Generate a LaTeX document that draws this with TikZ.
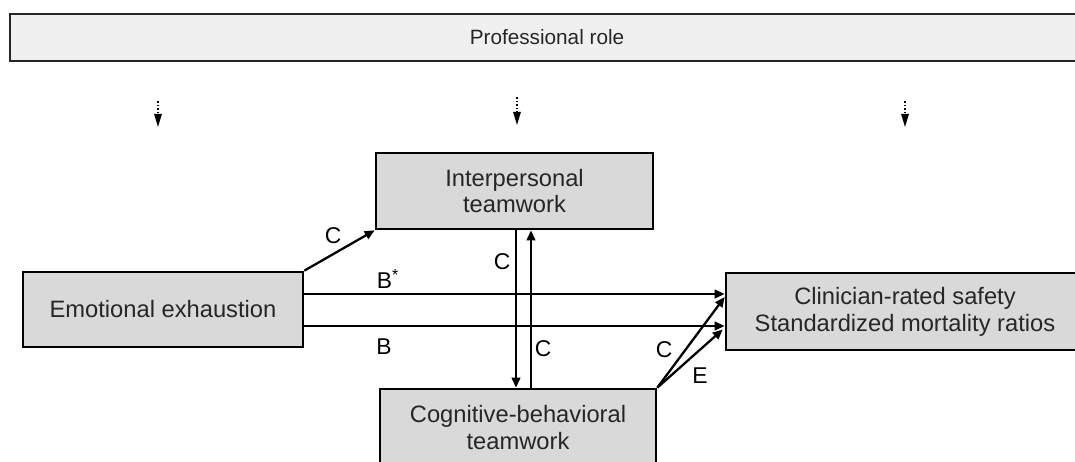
\documentclass[tikz,border=0pt]{standalone}
\usepackage{fontspec}
\setmainfont{Liberation Sans}
\usetikzlibrary{arrows.meta}
\definecolor{boxgray}{HTML}{D9D9D9}
\definecolor{bargray}{HTML}{F0F0F0}
\definecolor{txtgray}{HTML}{262626}
\begin{document}
\begin{tikzpicture}[x=0.02cm,y=-0.02cm,
		varbox/.style={draw=black, line width=1.5pt, fill=boxgray, text=txtgray, align=center, inner sep=0pt, font=\fontsize{13.5}{15.3}\selectfont},
		rolebar/.style={draw=black!85, line width=1.2pt, fill=bargray, text=txtgray, inner sep=0pt, minimum width=21.5cm, minimum height=0.94cm, font=\fontsize{11.8}{14}\selectfont},
		link/.style={-{Triangle[length=0.2cm,width=0.17cm]}, line width=1.3pt},
		modlink/.style={-{Triangle[length=0.26cm,width=0.15cm]}, line width=0.8pt, dash pattern=on 1pt off 1pt},
		lbl/.style={inner sep=0pt, font=\fontsize{13}{15}\selectfont}]
		\useasboundingbox (0,0) rectangle (1075,462);
		\clip (0,0) rectangle (1075,462);
		\node[rolebar] (role) at (547,37.5) {Professional role};
		\node[varbox, minimum width=5.6cm, minimum height=1.5cm] (emo) at (163,309.5) {Emotional exhaustion};
		\node[varbox, minimum width=5.54cm, minimum height=1.52cm] (inter) at (514.5,191) {Interpersonal\\teamwork};
		\node[varbox, minimum width=5.52cm, minimum height=1.54cm] (cog) at (518,427.5) {Cognitive-behavioral\\teamwork};
		\node[varbox, minimum width=7.16cm, minimum height=1.54cm] (clin) at (905,311.5) {Clinician-rated safety\\Standardized mortality ratios};
		\coordinate (M1a) at (158,101);
		\coordinate (M1b) at (158,127);
		\coordinate (M2a) at (517,97);
		\coordinate (M2b) at (517,125);
		\coordinate (M3a) at (905,101);
		\coordinate (M3b) at (905,127);
		\draw[modlink] (M1a) -- (M1b);
		\draw[modlink] (M2a) -- (M2b);
		\draw[modlink] (M3a) -- (M3b);
		\draw[link] (emo.north east) -- (inter.south west);
		\draw[link] ([yshift=0.31cm]emo.east) -- ([yshift=0.31cm]emo.east -| clin.west);
		\draw[link] ([yshift=-0.33cm]emo.east) -- ([yshift=-0.33cm]emo.east -| clin.west);
		\draw[link] ([xshift=0.03cm]inter.south) -- ([xshift=0.03cm]inter.south |- cog.north);
		\draw[link] ([xshift=0.33cm]inter.south |- cog.north) -- ([xshift=0.33cm]inter.south);
		\draw[link] (cog.north east) -- ([yshift=0.29cm]clin.west);
		\draw[link] (cog.north east) -- ([xshift=-0.04cm,yshift=-0.36cm]clin.west);
		\node[lbl] (lC1) at (333,236) {C};
		\node[lbl] (lBs) at (388,279) {B\textsuperscript{*}};
		\node[lbl] (lB) at (384,347) {B};
		\node[lbl] (lC2) at (502,262) {C};
		\node[lbl] (lC3) at (543,349) {C};
		\node[lbl] (lC4) at (664,350) {C};
		\node[lbl] (lE) at (700,376) {E};
	\end{tikzpicture}
\end{document}
